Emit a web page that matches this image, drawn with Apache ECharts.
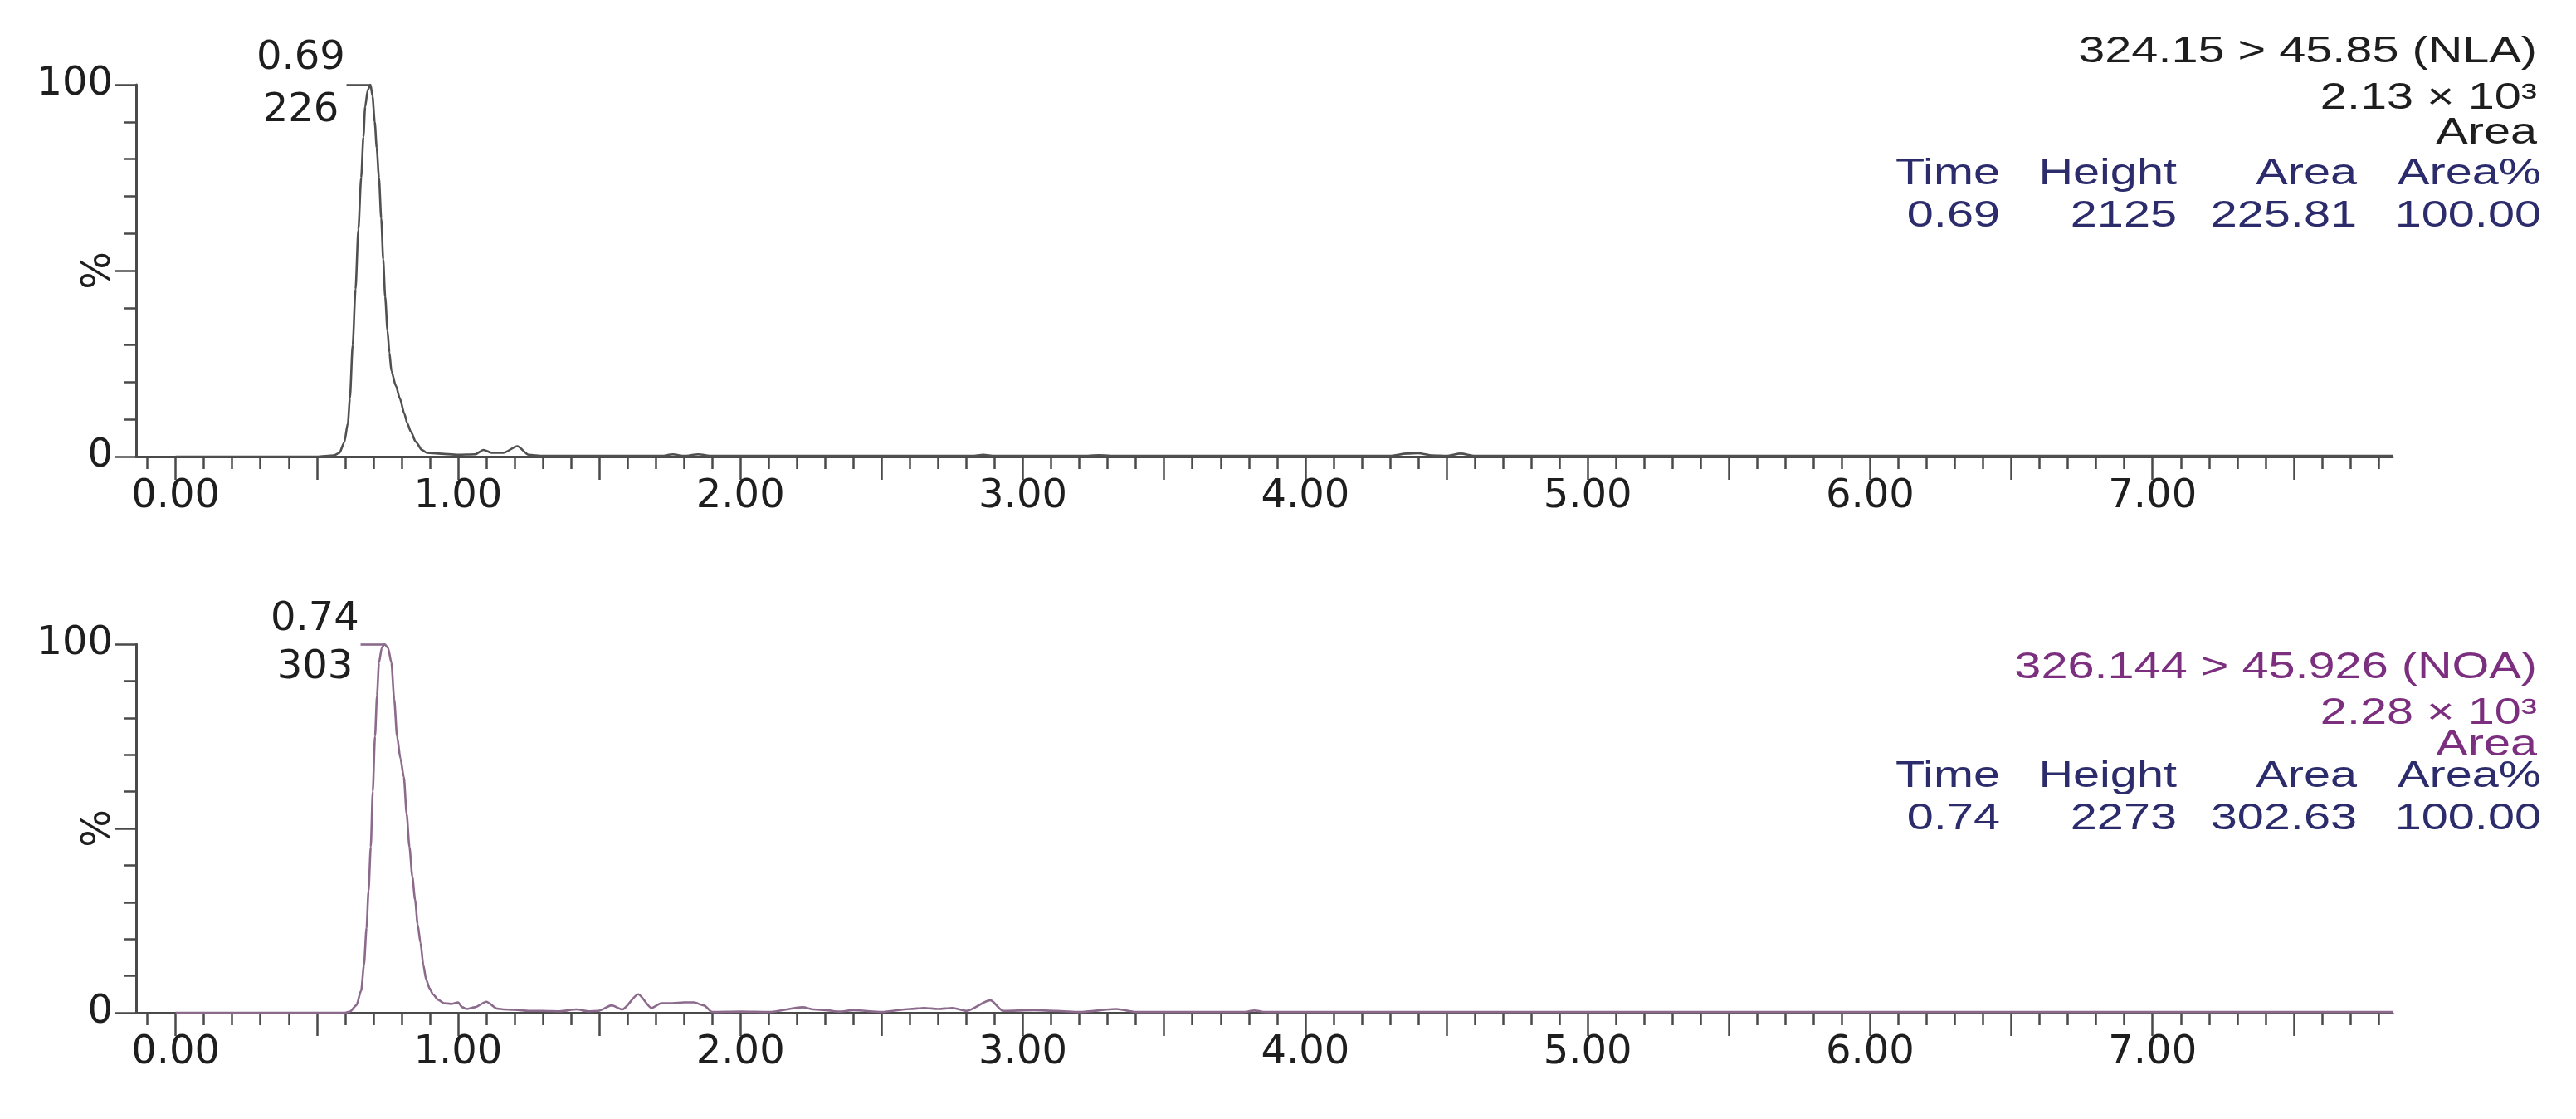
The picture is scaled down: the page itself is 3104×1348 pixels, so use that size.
<!DOCTYPE html>
<html>
<head>
<meta charset="utf-8">
<script src="https://cdn.jsdelivr.net/npm/echarts@6/dist/echarts.min.js"></script>
<style>
html,body{margin:0;padding:0;background:#fff;}
#chart{width:3104px;height:1348px;}
</style>
</head>
<body>
<div id="chart"></div>
<script>
// ---------- DATA ----------
// NLA trace (324.15 > 45.85): retention time (min) and relative intensity (%)
const nlaTime = [0.00,0.50,0.56,0.58,0.597,0.61,0.617,0.627,0.637,0.647,0.657,0.665,0.671,0.68,0.69,0.697,0.705,0.712,0.72,0.728,0.735,0.742,0.75,0.757,0.764,0.78,0.794,0.81,0.82,0.833,0.85,0.872,0.89,0.93,1.00,1.06,1.09,1.12,1.16,1.21,1.25,1.30,1.72,1.76,1.80,1.85,1.90,2.82,2.86,2.90,3.23,3.27,3.31,4.30,4.36,4.40,4.45,4.50,4.55,4.60,7.85];
const nlaPct  = [0,0,0.3,1,3.8,9,15.6,30,45,61,75,86,94,98.5,100,97,90,83,75,64,53,43,34,28,23,19,15.6,11.5,9,6.7,4,1.8,1,0.8,0.5,0.6,1.8,1.0,1.0,2.8,0.5,0.2,0.2,0.6,0.2,0.6,0.2,0.2,0.5,0.2,0.2,0.4,0.2,0.2,0.8,0.9,0.3,0.2,0.8,0.2,0.2];

// NOA trace (326.144 > 45.926)
const noaTime = [0.00,0.60,0.617,0.64,0.657,0.667,0.676,0.683,0.691,0.698,0.706,0.713,0.72,0.73,0.74,0.752,0.764,0.774,0.784,0.796,0.808,0.818,0.828,0.838,0.848,0.857,0.867,0.877,0.887,0.90,0.911,0.93,0.95,0.975,1.00,1.015,1.03,1.06,1.10,1.14,1.16,1.20,1.25,1.30,1.36,1.42,1.46,1.497,1.544,1.582,1.638,1.685,1.72,1.759,1.80,1.835,1.87,1.90,2.00,2.10,2.22,2.26,2.30,2.35,2.40,2.50,2.60,2.65,2.70,2.75,2.80,2.885,2.93,3.04,3.12,3.20,3.33,3.40,3.78,3.82,3.86,7.85];
const noaPct  = [0,0,0.3,2,6,13,23,33,45,60,75,86,95,99,100,99,95,85,75,69,64,54,45,37,30.6,24,19,13,9,6.5,5,3.5,2.6,2.4,2.8,1.5,1.0,1.5,3.0,1.1,0.9,0.8,0.5,0.5,0.4,0.9,0.4,0.5,2.0,0.9,5.0,1.3,2.6,2.6,2.8,2.8,2.0,0.2,0.3,0.2,1.5,0.9,0.7,0.3,0.7,0.2,1.0,1.3,1.0,1.3,0.5,3.4,0.5,0.7,0.5,0.2,1.0,0.2,0.2,0.6,0.2,0.2];

// peak annotations
const peakTime   = [0.69, 0.74];
const peakArea   = ['226', '303'];
// axis ticks
const xLabelVals = [0,1,2,3,4,5,6,7];
const xMajorTicks = [0,0.5,1,1.5,2,2.5,3,3.5,4,4.5,5,5.5,6,6.5,7,7.5];
const xMinorTicks = [];
for (let i = -1; i <= 78; i++) xMinorTicks.push(+(i/10).toFixed(1));
const yLabelVals = [0,100];

// right-hand text blocks
const nlaHeader = ['324.15 > 45.85 (NLA)', '2.13 × 10³', 'Area'];
const noaHeader = ['326.144 > 45.926 (NOA)', '2.28 × 10³', 'Area'];
const tableHead = ['Time', 'Height', 'Area', 'Area%'];
const nlaRow = ['0.69', '2125', '225.81', '100.00'];
const noaRow = ['0.74', '2273', '302.63', '100.00'];

// ---------- STYLE / LAYOUT ----------
const AXFONT = '"DejaVu Sans", sans-serif';
const AXFS = 48;
const TFONT = '"Liberation Sans", Arial, sans-serif';
const TFS = 44;
const TSCALE = 1.31;
const AX = '#4a4a4a';
const TXT = '#1e1e1e';
const NAVY = '#2c2c6c';
const PURPLE = '#7b2f7e';
const lineColors = ['#505050', '#8c6a8c'];
const headColors = [TXT, PURPLE];
const grids = [
  {left:164, right:221, top:102, height:448},
  {left:164, right:221, top:776, height:444}
];
const colRight = [2410, 2623, 2840, 3062];
const headRight = 3057;
const blockLines = [
  [63, 119, 161, 210, 261],
  [805, 860, 898, 936, 987]
];

function zip(t, v){ return t.map((x,i)=>[x, v[i]]); }

const xAxes = [], yAxes = [], series = [];
[0,1].forEach(g => {
  xAxes.push({
    type:'value', gridIndex:g, min:-0.14, max:7.85, position:'bottom',
    axisLine:{show:true, onZero:false, lineStyle:{color:AX, width:3}},
    axisTick:{show:true, customValues:xMinorTicks, length:15, lineStyle:{color:AX, width:2.5}},
    axisLabel:{show:false}, splitLine:{show:false}
  });
  xAxes.push({
    type:'value', gridIndex:g, min:-0.14, max:7.85, position:'bottom',
    axisLine:{show:false, onZero:false},
    axisTick:{show:true, customValues:xMajorTicks, length:28, lineStyle:{color:AX, width:2.5}},
    axisLabel:{show:true, customValues:xLabelVals, margin:25, color:TXT, fontSize:AXFS, fontFamily:AXFONT,
      formatter:v=>v.toFixed(2)},
    splitLine:{show:false}
  });
  yAxes.push({
    type:'value', gridIndex:g, min:0, max:100, interval:10, position:'left',
    axisLine:{show:true, onZero:false, lineStyle:{color:AX, width:3}},
    axisTick:{show:true, length:14, lineStyle:{color:AX, width:2.5}},
    axisLabel:{show:false}, splitLine:{show:false},
    name:'%', nameLocation:'middle', nameGap:20, nameRotate:90,
    nameTextStyle:{color:TXT, fontSize:AXFS, fontFamily:AXFONT}
  });
  yAxes.push({
    type:'value', gridIndex:g, min:0, max:100, interval:50, position:'left',
    axisLine:{show:false, onZero:false},
    axisTick:{show:true, length:25, lineStyle:{color:AX, width:2.5}},
    axisLabel:{show:true, customValues:yLabelVals, margin:28, color:TXT, fontSize:AXFS, fontFamily:AXFONT},
    splitLine:{show:false}
  });
});

const traces = [zip(nlaTime, nlaPct), zip(noaTime, noaPct)];
[0,1].forEach(g => {
  series.push({
    type:'line', xAxisIndex:g*2, yAxisIndex:g*2, data:traces[g],
    showSymbol:false, smooth:0.25, smoothMonotone:'x',
    lineStyle:{color:lineColors[g], width:2.6}, silent:true, animation:false,
    markLine:{
      silent:true, symbol:['none','none'], animation:false,
      label:{show:false},
      lineStyle:{color:lineColors[g], width:2.6, type:'solid'},
      data:[[{coord:[peakTime[g]-0.085, 100]}, {coord:[peakTime[g], 100]}]]
    },
    markPoint:{
      silent:true, symbol:'circle', symbolSize:0, animation:false,
      label:{show:true, position:'inside', offset:[-84, 0], align:'center',
        color:TXT, fontSize:AXFS, fontFamily:AXFONT, lineHeight:g===0?63:58,
        formatter:()=>peakTime[g].toFixed(2)+'\n'+peakArea[g]},
      data:[{coord:[peakTime[g], 100]}]
    }
  });
});

const graphics = [];
function addText(txt, x, y, color){
  graphics.push({type:'text', x:x, y:y, scaleX:TSCALE, silent:true,
    style:{text:txt, fill:color, font:TFS+'px '+TFONT, textAlign:'right', textVerticalAlign:'middle'}});
}
[0,1].forEach(g => {
  const hdr = g===0 ? nlaHeader : noaHeader;
  const row = g===0 ? nlaRow : noaRow;
  const L = blockLines[g];
  hdr.forEach((t,i)=>addText(t, headRight, L[i], headColors[g]));
  tableHead.forEach((t,i)=>addText(t, colRight[i], L[3], NAVY));
  row.forEach((t,i)=>addText(t, colRight[i], L[4], NAVY));
});

const chart = echarts.init(document.getElementById('chart'), null, {renderer:'canvas'});
chart.setOption({
  animation:false,
  backgroundColor:'#ffffff',
  grid: grids,
  xAxis: xAxes,
  yAxis: yAxes,
  series: series,
  graphic: graphics
});
</script>
</body>
</html>
